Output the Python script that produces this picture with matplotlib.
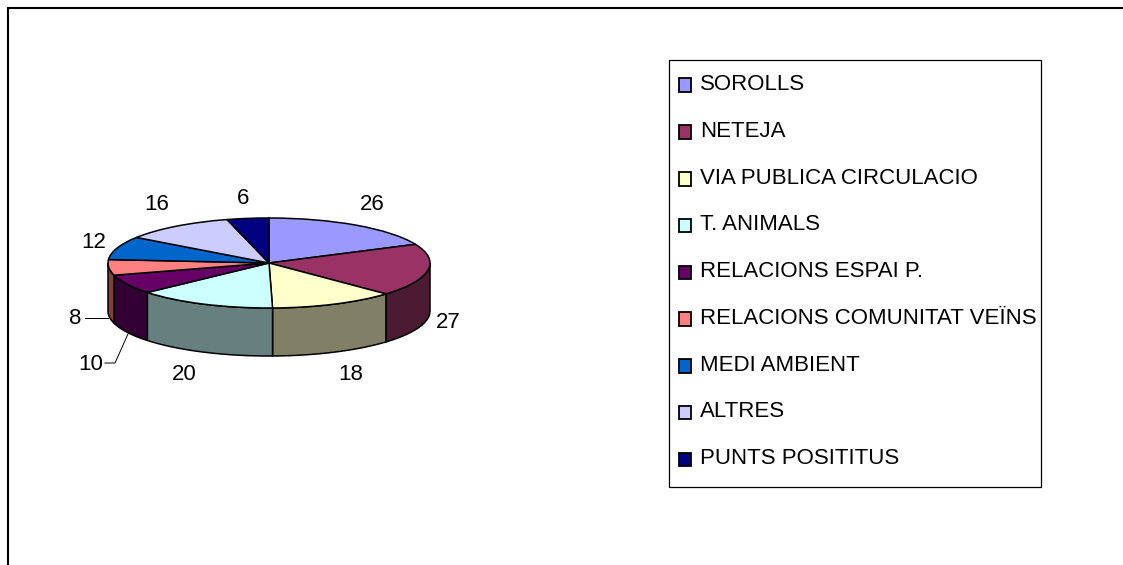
import numpy as np
import matplotlib
matplotlib.use("Agg")
import matplotlib.pyplot as plt
from matplotlib.patches import Patch, Rectangle

plt.rcParams['font.family'] = ['Liberation Sans', 'DejaVu Sans']

categories = ["SOROLLS", "NETEJA", "VIA PUBLICA CIRCULACIO", "T. ANIMALS", "RELACIONS ESPAI P.",
              "RELACIONS COMUNITAT VEÏNS", "MEDI AMBIENT", "ALTRES", "PUNTS POSITITUS"]
values = [26, 27, 18, 20, 10, 8, 12, 16, 6]
colors = ["#9999FF", "#993366", "#FFFFCC", "#CCFFFF", "#660066", "#FF8080", "#0066CC", "#CCCCFF", "#000080"]

W, H = 1123, 565
# label centres, in pixels of the picture
label_pos = [(372, 205), (448, 323), (351, 375), (184, 375), (91, 364), (75, 319), (94, 242), (157, 205), (243, 198)]

# pie geometry in pixels
cx, cy, rx, ry, depth = 269, 263, 161, 45, 48
font_size = 16

fig = plt.figure(figsize=(W / 100, H / 100), dpi=100, facecolor="white")

# overlay in pixel coordinates for the frame, leaders and labels
bg = fig.add_axes([0, 0, 1, 1])
bg.set_xlim(0, W)
bg.set_ylim(H, 0)
bg.axis("off")
bg.plot([8, 8, W], [H, 8, 8], color="black", lw=1.5, solid_joinstyle="miter")

# pie axes, squashed so the circle becomes the ellipse
d = depth / ry
ax = fig.add_axes([(cx - rx) / W, 1 - (cy + ry + depth) / H, 2 * rx / W, (2 * ry + depth) / H])
wedges, _ = ax.pie(values, colors=colors, startangle=90, counterclock=False, radius=1,
                   wedgeprops={"edgecolor": "black", "linewidth": 1.1, "clip_on": False, "zorder": 3})
ax.set_aspect("auto")
ax.set_xlim(-1, 1)
ax.set_ylim(-1 - d, 1)

# side walls of the front half, each slice half as bright as its top
for w, c in zip(wedges, colors):
    a = max(w.theta1, -180)
    b = min(w.theta2, 0)
    if a >= b:
        continue
    t = np.radians(np.linspace(a, b, 60))
    xs = np.r_[np.cos(t), np.cos(t[::-1])]
    ys = np.r_[np.sin(t), np.sin(t[::-1]) - d]
    dark = tuple(v * 0.5 for v in matplotlib.colors.to_rgb(c))
    ax.fill(xs, ys, facecolor=dark, edgecolor="black", lw=1.1, zorder=2, clip_on=False)

for (x, y), v in zip(label_pos, values):
    bg.text(x, y, str(v), fontsize=font_size, ha="center", va="center", color="black")

# leader lines of the two small slices
bg.plot([85, 108], [318, 318], color="black", lw=0.7)
bg.plot([105, 115, 128], [363, 363, 334], color="black", lw=0.7)

bg.add_patch(Rectangle((669, 60), 372, 427, facecolor="white", edgecolor="black", lw=0.9))
handles = [Patch(facecolor=c, edgecolor="black", linewidth=1.3) for c in colors]
leg = bg.legend(handles, categories, loc="upper left", bbox_to_anchor=(669 / W, 1 - 64 / H),
                bbox_transform=fig.transFigure, fontsize=font_size, frameon=False, borderaxespad=0,
                borderpad=0.45, labelspacing=1.16, handlelength=0.56, handleheight=0.56, handletextpad=0.4)
# swatches sit a little below the text line
for h in leg.legend_handles:
    h.set_y(h.get_y() - 2.2)

fig.savefig("out.png", dpi=100)
